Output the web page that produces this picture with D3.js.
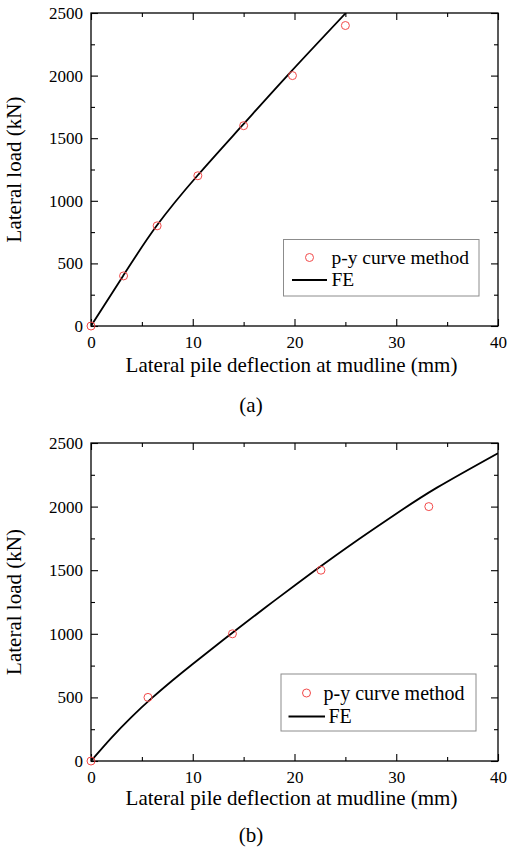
<!DOCTYPE html>
<html>
<head>
<meta charset="utf-8">
<script src="https://cdn.jsdelivr.net/npm/d3@7"></script>
<style>
  body { margin: 0; background: #fff; }
  svg { display: block; }
  text { font-family: "Liberation Serif", "Times New Roman", serif; fill: #000; }
</style>
</head>
<body>
<svg id="chart" width="507" height="848"></svg>
<script>
// Axis ticks shared by both panels
const xMajorTicks = [0, 10, 20, 30, 40];
const xMinorTicks = [5, 15, 25, 35];
const yMajorTicks = [0, 500, 1000, 1500, 2000, 2500];
const yMinorTicks = [250, 750, 1250, 1750, 2250];

// Panel (a): p-y curve method points and FE load-deflection curve
const pyDeflA = [0, 3.2, 6.5, 10.5, 15, 19.8, 25];
const pyLoadA = [0, 400, 800, 1200, 1600, 2000, 2400];
const feDeflA = [0, 3.15, 6.45, 10.45, 14.85, 19.3, 25.05];
const feLoadA = [0, 400, 800, 1200, 1600, 2000, 2500];

// Panel (b)
const pyDeflB = [0, 5.6, 13.9, 22.6, 33.2];
const pyLoadB = [0, 500, 1000, 1500, 2000];
const feDeflB = [0, 2, 4, 6, 8, 10, 14, 18, 22, 26, 30, 34, 40];
const feLoadB = [0, 182, 347, 496, 633, 763, 1014, 1259, 1497, 1726, 1944, 2149, 2420];

const legendLabels = ["p-y curve method", "FE"];
const xTitle = "Lateral pile deflection at mudline (mm)";
const yTitle = "Lateral load (kN)";

const svg = d3.select("#chart");
svg.append("rect").attr("width", 507).attr("height", 848).attr("fill", "#fff");

const pointColor = "#f24a4a";

function drawPanel(cfg, idx) {
  const left = 91, right = 498;
  const x = d3.scaleLinear().domain([0, 40]).range([left, right]);
  const y = d3.scaleLinear().domain([0, 2500]).range([cfg.bottom, cfg.top]);
  const g = svg.append("g");

  const clipId = "clip" + idx;
  g.append("clipPath").attr("id", clipId)
    .append("rect").attr("x", left).attr("y", cfg.top)
    .attr("width", right - left).attr("height", cfg.bottom - cfg.top);

  // axes with inward ticks on all four sides
  function addAxis(axis, tx, ty, labels) {
    const a = g.append("g").attr("transform", `translate(${tx},${ty})`).call(axis)
      .attr("font-family", null).attr("font-size", null);
    a.select(".domain").remove();
    a.selectAll(".tick line").attr("stroke", "#000").attr("stroke-width", 1.1);
    a.selectAll("text").style("font-size", "17px").attr("fill", "#000");
    if (!labels) a.selectAll("text").remove();
    return a;
  }
  addAxis(d3.axisBottom(x).tickValues(xMajorTicks).tickSize(-7).tickPadding(10).tickFormat(d3.format("d")), 0, cfg.bottom, true);
  addAxis(d3.axisBottom(x).tickValues(xMinorTicks).tickSize(-4).tickFormat(""), 0, cfg.bottom, false);
  addAxis(d3.axisTop(x).tickValues(xMajorTicks).tickSize(-7).tickFormat(""), 0, cfg.top, false);
  addAxis(d3.axisTop(x).tickValues(xMinorTicks).tickSize(-4).tickFormat(""), 0, cfg.top, false);
  addAxis(d3.axisLeft(y).tickValues(yMajorTicks).tickSize(-7).tickPadding(8).tickFormat(d3.format("d")), left, 0, true);
  addAxis(d3.axisLeft(y).tickValues(yMinorTicks).tickSize(-4).tickFormat(""), left, 0, false);
  addAxis(d3.axisRight(y).tickValues(yMajorTicks).tickSize(-7).tickFormat(""), right, 0, false);
  addAxis(d3.axisRight(y).tickValues(yMinorTicks).tickSize(-4).tickFormat(""), right, 0, false);

  g.append("rect")
    .attr("x", left).attr("y", cfg.top)
    .attr("width", right - left).attr("height", cfg.bottom - cfg.top)
    .attr("fill", "none").attr("stroke", "#000").attr("stroke-width", 1.3);

  // FE curve (smooth spline through the computed points)
  const fe = cfg.feDefl.map((d, i) => [d, cfg.feLoad[i]]);
  g.append("path")
    .datum(fe)
    .attr("clip-path", `url(#${clipId})`)
    .attr("fill", "none").attr("stroke", "#000").attr("stroke-width", 1.8)
    .attr("d", d3.line().x(d => x(d[0])).y(d => y(d[1])).curve(d3.curveNatural));

  // p-y curve method points
  const py = cfg.pyDefl.map((d, i) => [d, cfg.pyLoad[i]]);
  g.selectAll("circle.pt").data(py).enter().append("circle")
    .attr("class", "pt")
    .attr("cx", d => x(d[0])).attr("cy", d => y(d[1])).attr("r", 4)
    .attr("fill", "none").attr("stroke", pointColor).attr("stroke-width", 1);

  // titles
  g.append("text")
    .attr("x", (left + right) / 2 - 3).attr("y", cfg.xTitleY)
    .attr("text-anchor", "middle").style("font-size", "21px").text(xTitle);
  g.append("text")
    .attr("transform", `translate(21,${(cfg.top + cfg.bottom) / 2}) rotate(-90)`)
    .attr("text-anchor", "middle").style("font-size", "21px").text(yTitle);
  g.append("text")
    .attr("x", 251).attr("y", cfg.captionY)
    .attr("text-anchor", "middle").style("font-size", "21px").text(cfg.caption);

  // legend
  const L = cfg.legend;
  g.append("rect").attr("x", L.x0).attr("y", L.y0)
    .attr("width", L.x1 - L.x0).attr("height", L.y1 - L.y0)
    .attr("fill", "#fff").attr("stroke", "#8c8c8c").attr("stroke-width", 1);
  g.append("circle").attr("cx", L.markX).attr("cy", L.row1).attr("r", 4)
    .attr("fill", "none").attr("stroke", pointColor).attr("stroke-width", 1);
  g.append("line").attr("x1", L.lineX0).attr("x2", L.lineX1)
    .attr("y1", L.row2).attr("y2", L.row2)
    .attr("stroke", "#000").attr("stroke-width", 1.8);
  g.append("text").attr("x", L.textX).attr("y", L.row1).attr("dy", "0.33em")
    .style("font-size", L.fs + "px").text(legendLabels[0]);
  g.append("text").attr("x", L.textX2).attr("y", L.row2).attr("dy", "0.33em")
    .style("font-size", L.fs + "px").text(legendLabels[1]);
}

drawPanel({
  top: 13, bottom: 326, xTitleY: 372, captionY: 412, caption: "(a)",
  pyDefl: pyDeflA, pyLoad: pyLoadA, feDefl: feDeflA, feLoad: feLoadA,
  legend: { x0: 283.5, x1: 479, y0: 239.5, y1: 296, markX: 309.5, row1: 257.5, row2: 280,
            lineX0: 292, lineX1: 327, textX: 331.5, textX2: 331.5, fs: 19.5 }
}, 0);

drawPanel({
  top: 443, bottom: 761, xTitleY: 805, captionY: 842, caption: "(b)",
  pyDefl: pyDeflB, pyLoad: pyLoadB, feDefl: feDeflB, feLoad: feLoadB,
  legend: { x0: 281, x1: 476, y0: 674, y1: 731, markX: 306.5, row1: 693, row2: 716.5,
            lineX0: 288.5, lineX1: 325, textX: 323.5, textX2: 328.5, fs: 20 }
}, 1);
</script>
</body>
</html>
